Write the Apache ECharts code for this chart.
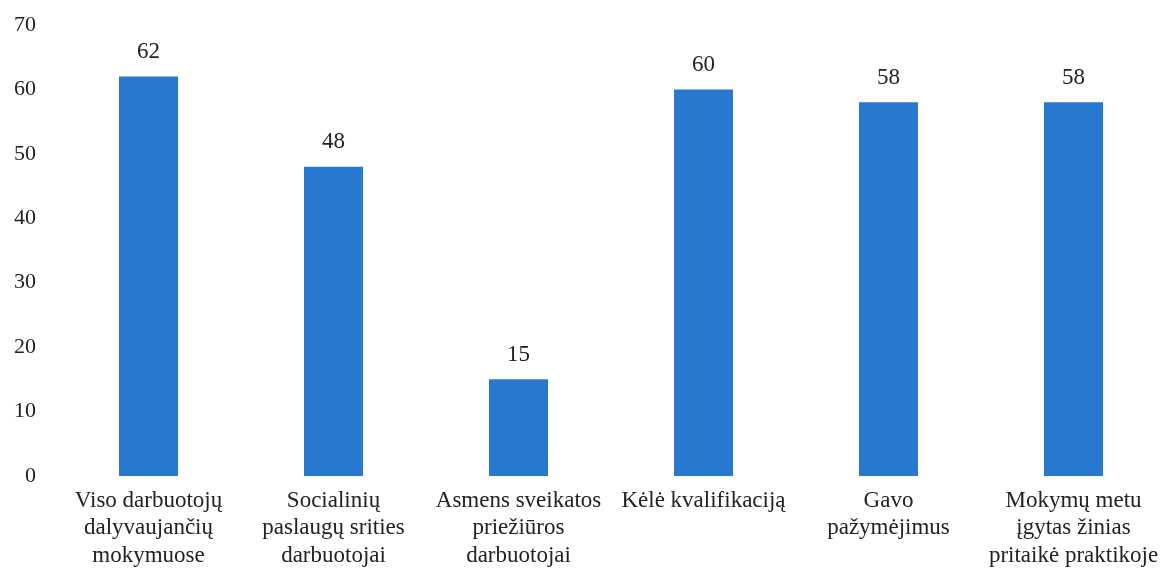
<!DOCTYPE html>
<html>
<head>
<meta charset="utf-8">
<script src="https://cdn.jsdelivr.net/npm/echarts@6/dist/echarts.min.js"></script>
<style>
  html, body { margin: 0; padding: 0; background: #fff; }
  #chart { width: 1173px; height: 574px; }
</style>
</head>
<body>
<div id="chart"></div>
<script>
// Training participation categories and their percentages
const categories = [
  'Viso darbuotojų\ndalyvaujančių\nmokymuose',
  'Socialinių\npaslaugų srities\ndarbuotojai',
  'Asmens sveikatos\npriežiūros\ndarbuotojai',
  'Kėlė kvalifikaciją',
  'Gavo\npažymėjimus',
  'Mokymų metu\nįgytas žinias\npritaikė praktikoje'
];
const values = [62, 48, 15, 60, 58, 58];
const yTicks = { min: 0, max: 70, interval: 10 };

const font = '"Liberation Serif", "DejaVu Serif", serif';
const textColor = '#222';

const chart = echarts.init(document.getElementById('chart'));
chart.setOption({
  animation: false,
  grid: { left: 56, right: 7, top: 25, bottom: 98, containLabel: false },
  xAxis: {
    type: 'category',
    data: categories,
    axisLine: { show: false },
    axisTick: { show: false },
    axisLabel: {
      interval: 0,
      margin: 11,
      fontFamily: font,
      fontSize: 23,
      lineHeight: 27.5,
      color: textColor,
      align: 'center'
    }
  },
  yAxis: {
    type: 'value',
    min: yTicks.min,
    max: yTicks.max,
    interval: yTicks.interval,
    axisLine: { show: false },
    axisTick: { show: false },
    splitLine: { show: false },
    axisLabel: {
      margin: 20,
      fontFamily: font,
      fontSize: 22,
      color: textColor
    }
  },
  series: [{
    type: 'bar',
    data: values,
    barWidth: 59,
    itemStyle: { color: '#2878d0' },
    label: {
      show: true,
      position: 'top',
      distance: 13,
      fontFamily: font,
      fontSize: 23,
      color: textColor
    }
  }]
});
</script>
</body>
</html>
